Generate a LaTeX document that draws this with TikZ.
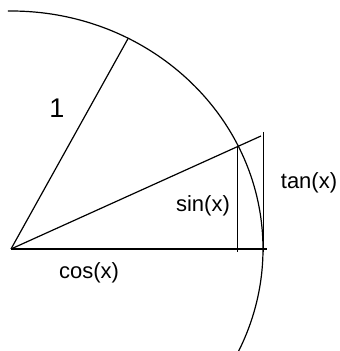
\documentclass[tikz,border=0pt]{standalone}
\usepackage{fontspec}
\setmainfont{Liberation Sans}
\usepackage{tikz}
\usetikzlibrary{calc}

\begin{document}
\begin{tikzpicture}[x=1pt, y=1pt, line width=1.2pt,
        lbl/.style={inner sep=0pt, font=\fontsize{22}{26}\selectfont},
        big/.style={inner sep=0pt, font=\fontsize{27}{32}\selectfont}]
      \useasboundingbox (0,0) rectangle (340,351);
      % points
      \coordinate (O) at (11,102);
      \coordinate (C) at (267,102);
      \coordinate (P) at (128.2,312.7);
      \coordinate (S) at (237.7,204.5);
      \coordinate (Sb) at (237.7,99);
      \coordinate (E) at (261,215);
      \coordinate (T) at (263.5,219);
      \coordinate (Tb) at (263.5,99);
      % arc
      \draw (O) ++(90.7:252 and 238) arc[start angle=90.7, end angle=-25.4, x radius=252, y radius=238];
      % lines
      \draw (O) -- (C);
      \draw (O) -- (P);
      \draw (O) -- (E);
      \draw (S) -- (Sb);
      \draw (T) -- (Tb);
      % labels
      \node[big] (one) at (57,243) {1};
      \node[lbl] (sin) at (203,145) {sin(x)};
      \node[lbl] (cos) at (89,78) {cos(x)};
      \node[lbl] (tan) at (309,168) {tan(x)};
    \end{tikzpicture}
\end{document}
